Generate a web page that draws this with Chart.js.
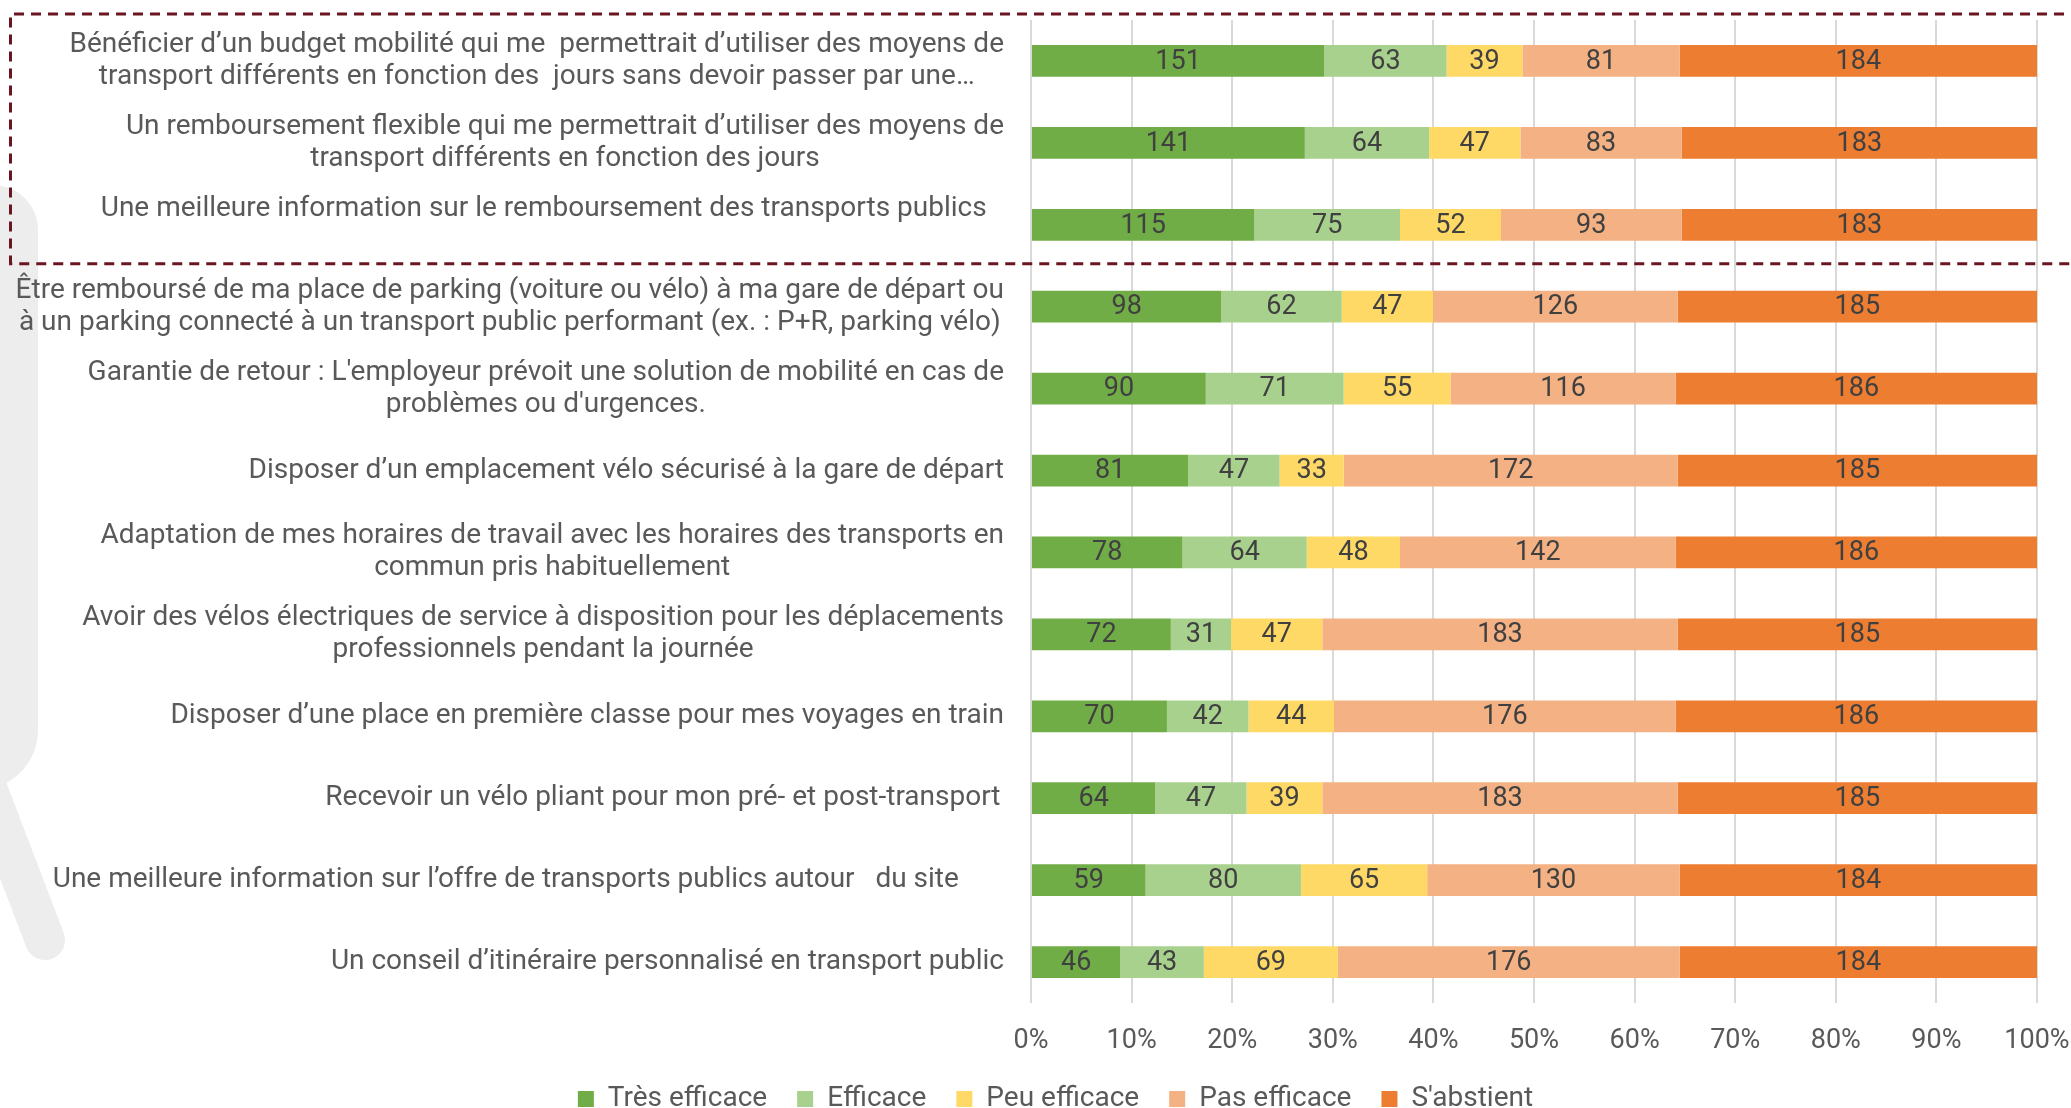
<!DOCTYPE html>
<html>
<head>
<meta charset="utf-8">
<script src="https://cdn.jsdelivr.net/npm/chart.js@4.4.0/dist/chart.umd.min.js"></script>
<style>
    html, body { margin: 0; padding: 0; background: #fff; }
    #wrap { width: 2071px; height: 1108px; position: relative; }
</style>
</head>
<body>
<div id="wrap"><canvas id="myChart"></canvas></div>
<script>
// categories (each label is a list of lines, as in the original chart)
var categories = [
    ["Bénéficier d’un budget mobilité qui me  permettrait d’utiliser des moyens de", "transport différents en fonction des  jours sans devoir passer par une…"],
    ["Un remboursement flexible qui me permettrait d’utiliser des moyens de", "transport différents en fonction des jours"],
    ["Une meilleure information sur le remboursement des transports publics     ", ""],
    ["Être remboursé de ma place de parking (voiture ou vélo) à ma gare de départ ou", "à un parking connecté à un transport public performant (ex. : P+R, parking vélo)"],
    ["Garantie de retour : L'employeur prévoit une solution de mobilité en cas de", "problèmes ou d'urgences."],
    ["Disposer d’un emplacement vélo sécurisé à la gare de départ"],
    ["Adaptation de mes horaires de travail avec les horaires des transports en", "commun pris habituellement"],
    ["Avoir des vélos électriques de service à disposition pour les déplacements", "professionnels pendant la journée"],
    ["Disposer d’une place en première classe pour mes voyages en train"],
    ["Recevoir un vélo pliant pour mon pré- et post-transport "],
    ["Une meilleure information sur l’offre de transports publics autour   du site             "],
    ["Un conseil d’itinéraire personnalisé en transport public"]
];

// answers count per category
var tresEfficace = [151, 141, 115, 98, 90, 81, 78, 72, 70, 64, 59, 46];
var efficace     = [63, 64, 75, 62, 71, 47, 64, 31, 42, 47, 80, 43];
var peuEfficace  = [39, 47, 52, 47, 55, 33, 48, 47, 44, 39, 65, 69];
var pasEfficace  = [81, 83, 93, 126, 116, 172, 142, 183, 176, 183, 130, 176];
var sAbstient    = [184, 183, 183, 185, 186, 185, 186, 185, 186, 185, 184, 184];

var seriesNames = ["Très efficace", "Efficace", "Peu efficace", "Pas efficace", "S'abstient"];
var seriesColors = ["#70AD47", "#A9D18E", "#FFD966", "#F4B183", "#ED7D31"];
var xTicks = [0, 10, 20, 30, 40, 50, 60, 70, 80, 90, 100];

var allSeries = [tresEfficace, efficace, peuEfficace, pasEfficace, sAbstient];

// totals per row, to show the bars as 100% stacked
var totals = categories.map(function (c, i) {
    return allSeries.reduce(function (sum, s) { return sum + s[i]; }, 0);
});

var datasets = allSeries.map(function (s, k) {
    return {
        label: seriesNames[k],
        data: s.map(function (v, i) { return v / totals[i] * 100; }),
        counts: s,
        backgroundColor: seriesColors[k],
        borderWidth: 0,
        barPercentage: 0.387,
        categoryPercentage: 1
    };
});

var textColor = "#595959";
var fontFamily = "Roboto";

// faint grey shape in the background on the left
var backgroundShape = {
    id: 'backgroundShape',
    beforeDraw: function (chart) {
        var ctx = chart.ctx;
        ctx.save();
        ctx.fillStyle = "#EDEDED";
        ctx.beginPath();
        ctx.roundRect(-80, 185, 118, 605, [0, 45, 60, 0]);
        ctx.fill();
        ctx.strokeStyle = "#EDEDED";
        ctx.lineWidth = 40;
        ctx.lineCap = "round";
        ctx.beginPath();
        ctx.moveTo(-18, 775);
        ctx.lineTo(45, 940);
        ctx.stroke();
        ctx.restore();
    }
};

// category labels, lines centered, block right aligned
var categoryLabels = {
    id: 'categoryLabels',
    afterDraw: function (chart) {
        var ctx = chart.ctx;
        var yScale = chart.scales.y;
        var right = chart.chartArea.left - 27;
        var lineHeight = 32;
        ctx.save();
        ctx.font = "28px " + fontFamily;
        ctx.fillStyle = textColor;
        ctx.textAlign = "center";
        ctx.textBaseline = "middle";
        categories.forEach(function (lines, i) {
            var yc = yScale.getPixelForValue(i);
            var maxW = Math.max.apply(null, lines.map(function (l) { return ctx.measureText(l).width; }));
            var cx = right - maxW / 2;
            lines.forEach(function (l, k) {
                ctx.fillText(l.trim(), cx, yc + (k - (lines.length - 1) / 2) * lineHeight);
            });
        });
        ctx.restore();
    }
};

// counts written in the middle of every segment
var valueLabels = {
    id: 'valueLabels',
    afterDatasetsDraw: function (chart) {
        var ctx = chart.ctx;
        ctx.save();
        ctx.font = "27px " + fontFamily;
        ctx.fillStyle = "#404040";
        ctx.textAlign = "center";
        ctx.textBaseline = "middle";
        chart.data.datasets.forEach(function (ds, i) {
            chart.getDatasetMeta(i).data.forEach(function (bar, j) {
                var p = bar.getCenterPoint();
                ctx.fillText(ds.counts[j], p.x, p.y + 1);
            });
        });
        ctx.restore();
    }
};

// dashed frame around the first three rows
var dashedFrame = {
    id: 'dashedFrame',
    afterDraw: function (chart) {
        var ctx = chart.ctx;
        var yScale = chart.scales.y;
        var top = chart.chartArea.top - 6;
        var bottom = (yScale.getPixelForValue(2) + yScale.getPixelForValue(3)) / 2 - 2;
        var left = 10.5;
        ctx.save();
        ctx.strokeStyle = "#6B1523";
        ctx.lineWidth = 3;
        ctx.setLineDash([10, 7]);
        ctx.beginPath();
        ctx.moveTo(chart.width + 10, top);
        ctx.lineTo(left, top);
        ctx.lineTo(left, bottom);
        ctx.lineTo(chart.width + 10, bottom);
        ctx.stroke();
        ctx.restore();
    }
};

Chart.defaults.font.family = fontFamily;
Chart.defaults.color = textColor;

var ctx = document.getElementById('myChart').getContext('2d');

var chart = new Chart(ctx, {
    type: 'bar',
    data: {
        labels: categories,
        datasets: datasets
    },
    plugins: [backgroundShape, valueLabels, categoryLabels, dashedFrame],
    options: {
        indexAxis: 'y',
        responsive: true,
        maintainAspectRatio: false,
        animation: false,
        layout: {
            padding: { top: 20, right: 34, left: 74, bottom: 0 }
        },
        scales: {
            x: {
                stacked: true,
                min: 0,
                max: 100,
                afterBuildTicks: function (scale) {
                    scale.ticks = xTicks.map(function (v) { return { value: v }; });
                },
                ticks: {
                    padding: 22,
                    color: textColor,
                    font: { size: 27 },
                    callback: function (v) { return v + "%"; }
                },
                grid: { color: "#D9D9D9", lineWidth: 2, drawTicks: false },
                border: { display: false },
                afterFit: function (scale) {
                    scale.height = 52;
                    scale.paddingLeft = 0;
                    scale.paddingRight = 0;
                }
            },
            y: {
                stacked: true,
                ticks: { display: false },
                grid: { display: false },
                border: { display: false },
                afterFit: function (scale) { scale.width = 957; }
            }
        },
        plugins: {
            legend: {
                position: 'bottom',
                maxHeight: 53,
                labels: {
                    boxWidth: 16,
                    boxHeight: 16,
                    padding: 30,
                    color: textColor,
                    font: { size: 28 }
                }
            },
            tooltip: { enabled: false }
        }
    }
});
</script>
</body>
</html>
